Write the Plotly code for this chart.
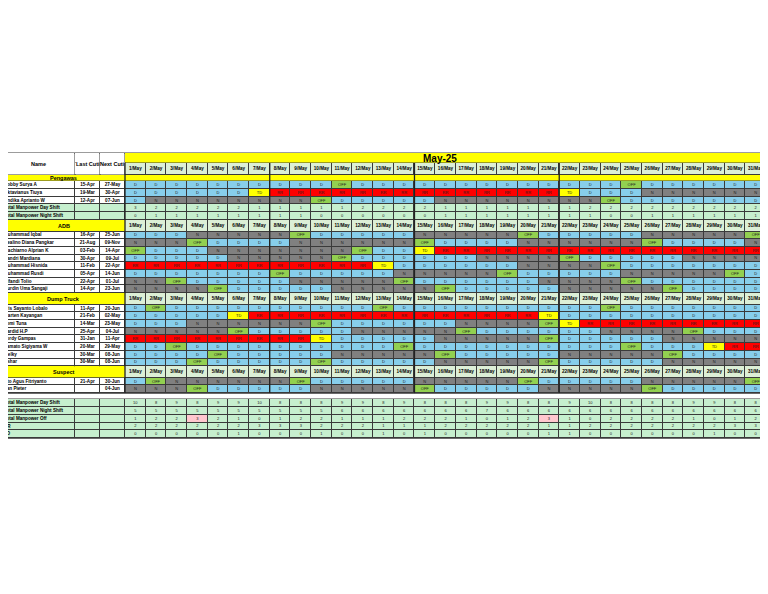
import plotly.graph_objects as go
import numpy as np

month_title = "May-25"
days = [f"{d}/May" for d in range(1, 32)]

peng_names = ["Bobby Surya A", "Oktavianus Tiuya", "Andika Aprianto W"]
peng_last = ["15-Apr", "19-Mar", "12-Apr"]
peng_next = ["27-May", "30-Apr", "07-Jun"]
peng_sched = [
    "DDDDD DDDDD ODDDD DDDDD DDDDO DDDDD D",
    "DDDDD DTRRR RRRRR RRRRR RTDDD NNNNN N",
    "DNNNN NNNNO DDDDD NNNNN NNNOD DDDDD D",
]
peng_day_total = [3,2,2,2,2,2,1,1,1,1,1,2,2,2,2,1,1,1,1,1,1,1,2,2,2,2,2,2,2,2,2]
peng_night_total = [0,1,1,1,1,1,1,1,1,0,0,0,0,0,0,1,1,1,1,1,1,1,1,0,0,1,1,1,1,1,1]

adb_names = ["Muhammad Iqbal", "Realino Diana Pangkar", "Machiarno Alprian K", "Handri Mardiana",
             "Muhammad Hisnida", "Muhammad Rusdi", "Alfandi Tolio", "Nurdin Uma Sangaji"]
adb_last = ["16-Apr", "21-Aug", "03-Feb", "30-Apr", "11-Feb", "05-Apr", "22-Apr", "14-Apr"]
adb_next = ["25-Jun", "09-Nov", "14-Apr", "09-Jul", "22-Apr", "14-Jun", "01-Jul", "23-Jun"]
adb_sched = [
    "DDDNN NNNOD DDDDN NNNNO DDDDD NNNNN O",
    "NNNOD DDDNN NNNNO DDDDN NNNNN ODDDD N",
    "ODDDN NNNNN NODDT RRRRR RRRRR RRRRR R",
    "DDDDD NNNNN ODDDD DDNNN NODDD DDNNN N",
    "RRRRR RRRRR RRTDD DDDDN NNNOD DDDDD D",
    "DDDDD DDODD DDDNN NNNOD DDDDN NNNNO D",
    "NNODD DDDNN NNNOD DDDDD NNNNO DDDDD D",
    "NNNNO DDDDD NNNNN ODDDD DNNNN NODDD D",
]

dt_names = ["Tris Sayanto Lobalo", "Marten Kayangan", "Tomi Tuna", "Hardid H.P", "Jordy Gampas",
            "Yamato Sigiyama W", "Melky", "Ashar"]
dt_last = ["11-Apr", "21-Feb", "14-Mar", "25-Apr", "31-Jan", "20-Mar", "30-Mar", "30-Mar"]
dt_next = ["20-Jun", "02-May", "23-May", "04-Jul", "11-Apr", "29-May", "08-Jun", "08-Jun"]
dt_sched = [
    "DODDD DDDDD DDODD DDDDD DDDOD DDDDD D",
    "DDDDD TRRRR RRRRR RRRRR TDDDD DDDDD D",
    "DDDNN NNNNO DDDDD DNNNN OTRRR RRRRR R",
    "NNNNN ODDDD DNNNN NODDD DDDNN NNODD D",
    "RRRRR RRRRT DDDDD NNNNN ODDDD DNNNN N",
    "DDODD DDDDD DDDOD DDDDD DDDDO DDDTR R",
    "DDDDO DDDDD NNNNN ODDDD DNNNN NODDD D",
    "DDDOD DDDDO DDDDD NNNNN ODDDD DNNNN N",
]

sus_names = ["Ato Agus Fitriyanto", "Yan Pieter"]
sus_last = ["21-Apr", ""]
sus_next = ["30-Jun", "04-Jun"]
sus_sched = [
    "DONNN NNNOD DDDDN NNNNO DDDDD NNNNN O",
    "NNNOD DDDDN NNNNO DDDDD NNNNN ODDDD D",
]

total_labels = ["Total Manpower Day Shift", "Total Manpower Night Shift", "Total Manpower Off", "RR", "TD"]
tot_day = [10,8,9,8,9,9,10,8,8,8,9,9,8,9,8,8,8,9,9,8,8,9,10,8,8,8,8,9,9,8,8]
tot_night = [5,5,5,5,5,5,5,5,5,5,6,6,6,6,6,6,6,7,6,6,6,6,6,6,6,6,6,6,6,6,6]
tot_off = [1,2,2,3,2,1,0,1,2,2,1,1,1,2,2,2,1,0,1,2,3,1,0,2,2,2,2,1,0,1,2]
tot_rr = [2,2,2,2,2,2,3,3,3,2,2,2,1,1,1,2,2,2,2,2,1,1,2,2,2,2,2,2,2,3,3]
tot_td = [0,0,0,0,0,1,0,0,0,1,0,0,1,0,1,0,0,0,0,0,1,1,0,0,0,0,0,0,1,0,0]

# ---------- styling ----------
COL = {"W": 0, "Y": 1, "H": 2, "D": 3, "N": 4, "O": 5, "R": 6, "T": 7, "G": 8, "P": 9}
colors = ["#FFFFFF", "#FFFF00", "#DCEFD6", "#87CEEB", "#808080", "#92D050", "#FF0000", "#FFFF00", "#C6EFCE", "#FFC7CE"]
LBL = {"D": "D", "N": "N", "O": "OFF", "R": "RR", "T": "TD"}
cs = []
for i, c in enumerate(colors):
    cs += [[i / 10, c], [(i + 1) / 10, c]]

ncol = 34
day_x0, day_x1 = 125, 766
xs = [2, 75, 100] + list(np.linspace(day_x0, day_x1, 32))

rows = []
rows.append(("title", 10, None))
rows.append(("dayhdr0", 12, None))
rows.append(("peng", 6, None))
for n, l, nx, s in zip(peng_names, peng_last, peng_next, peng_sched):
    rows.append(("person", 7.8, (n, l, nx, s)))
rows.append(("total", 7.8, ("Total Manpower Day Shift", peng_day_total, None)))
rows.append(("total", 7.8, ("Total Manpower Night Shift", peng_night_total, None)))
for gname, names, lasts, nexts, scheds in [("ADB", adb_names, adb_last, adb_next, adb_sched),
                                           ("Dump Truck", dt_names, dt_last, dt_next, dt_sched),
                                           ("Suspect", sus_names, sus_last, sus_next, sus_sched)]:
    rows.append(("group", 11.5, gname))
    for n, l, nx, s in zip(names, lasts, nexts, scheds):
        rows.append(("person", 7.7, (n, l, nx, s)))
rows.append(("gap", 6, None))
for lab, vals in zip(total_labels, [tot_day, tot_night, tot_off, tot_rr, tot_td]):
    rows.append(("total", 7.8, (lab, vals, 3 if lab == "Total Manpower Off" else None)))

ys = [153]
for r in rows:
    ys.append(ys[-1] + r[1])

z = np.full((len(rows), ncol), np.nan)
tx, ty, tt = [], [], []
hx, hy, ht = [], [], []
nx_, ny_, nt_ = [], [], []
annotations = []
shapes = []

def cx(j):
    return (xs[j] + xs[j + 1]) / 2

for i, (kind, h, p) in enumerate(rows):
    yc = (ys[i] + ys[i + 1]) / 2
    if kind == "title":
        z[i, :3] = COL["W"]; z[i, 3:] = COL["Y"]
    elif kind in ("dayhdr0", "group"):
        z[i, :3] = COL["Y"] if kind == "group" else COL["W"]
        z[i, 3:] = COL["H"]
        for j, d in enumerate(days):
            hx.append(cx(j + 3)); hy.append(yc); ht.append(d)
        if kind == "group":
            shapes.append(dict(type="rect", x0=xs[0], x1=xs[3], y0=ys[i], y1=ys[i + 1] - 0.5,
                               fillcolor=colors[1], line_width=0, layer="above"))
            annotations.append(dict(x=(xs[0] + xs[3]) / 2, y=yc, text=f"<b>{p}</b>", showarrow=False,
                                    font=dict(size=5.5, color="black")))
    elif kind == "peng":
        z[i, :] = COL["Y"]
        shapes.append(dict(type="rect", x0=xs[0], x1=xs[-1], y0=ys[i], y1=ys[i + 1] - 0.5,
                           fillcolor=colors[1], line_width=0, layer="above"))
        annotations.append(dict(x=(xs[0] + xs[3]) / 2, y=yc, text="<b>Pengawas</b>", showarrow=False,
                                font=dict(size=5.5, color="black")))
    elif kind == "person":
        n, l, nxt, s = p
        s = s.replace(" ", "")
        assert len(s) == 31, n
        z[i, :3] = COL["W"]
        nx_.append(xs[0] + 2); ny_.append(yc); nt_.append(n)
        for j, v in enumerate([l, nxt]):
            hx.append(cx(j + 1)); hy.append(yc); ht.append(v)
        for j, c in enumerate(s):
            z[i, j + 3] = COL[c]
            tx.append(cx(j + 3)); ty.append(yc); tt.append(LBL[c])
    elif kind == "total":
        lab, vals, hl = p
        z[i, :] = COL["G"]
        nx_.append(xs[0] + 2); ny_.append(yc); nt_.append(lab)
        for j, v in enumerate(vals):
            if hl is not None and v >= hl:
                z[i, j + 3] = COL["P"]
            tx.append(cx(j + 3)); ty.append(yc); tt.append(str(v))

gap_i = [k for k, r in enumerate(rows) if r[0] == "gap"][0]
shapes.insert(0, dict(type="rect", x0=xs[0] - 0.6, x1=xs[-1] + 0.6, y0=ys[0] - 0.6, y1=ys[gap_i] + 0.6,
                      fillcolor="#3a3a3a", line_width=0, layer="below"))
shapes.insert(0, dict(type="rect", x0=xs[0] - 0.6, x1=xs[-1] + 0.6, y0=ys[gap_i + 1] - 0.6, y1=ys[-1] + 0.6,
                      fillcolor="#3a3a3a", line_width=0, layer="below"))
for j in range(3):
    shapes.append(dict(type="rect", x0=xs[j] + 0.5, x1=xs[j + 1] - 0.5, y0=ys[0] + 0.5, y1=ys[2] - 0.5,
                       fillcolor="white", line_width=0, layer="above"))
for j, lab in enumerate(["Name", "Last Cuti", "Next Cuti"]):
    annotations.append(dict(x=cx(j), y=(ys[0] + ys[2]) / 2, text=f"<b>{lab}</b>", showarrow=False,
                            font=dict(size=5.5, color="black")))
shapes.append(dict(type="rect", x0=xs[3] + 0.5, x1=xs[-1], y0=ys[0], y1=ys[1] - 0.5,
                   fillcolor=colors[1], line_width=0, layer="above"))
annotations.append(dict(x=440, y=(ys[0] + ys[1]) / 2, text=f"<b>{month_title}</b>", showarrow=False,
                        font=dict(size=10, color="black")))
for j in [3, 10, 17, 24]:
    shapes.append(dict(type="line", x0=xs[j], x1=xs[j], y0=ys[1], y1=ys[gap_i], line=dict(color="#222", width=1.3),
                       layer="above"))

fig = go.Figure()
fig.add_trace(go.Heatmap(x=xs, y=ys, z=z, colorscale=cs, zmin=0, zmax=10, showscale=False,
                         xgap=1, ygap=1, hoverinfo="skip"))
fig.add_trace(go.Scatter(x=tx, y=ty, text=tt, mode="text", textfont=dict(size=4, color="#222", family="Liberation Sans"),
                         hoverinfo="skip"))
fig.add_trace(go.Scatter(x=hx, y=hy, text=[f"<b>{t}</b>" for t in ht], mode="text",
                         textfont=dict(size=4.6, color="black", family="Liberation Sans"), hoverinfo="skip"))
fig.add_trace(go.Scatter(x=nx_, y=ny_, text=[f"<b>{t}</b>" for t in nt_], mode="text", textposition="middle right",
                         textfont=dict(size=4.6, color="black", family="Liberation Sans"), hoverinfo="skip"))
# page body has an 8px margin: size the figure so page pixels equal data units
fig.update_layout(width=752, height=578, margin=dict(l=0, r=0, t=0, b=0),
                  paper_bgcolor="white", plot_bgcolor="white", showlegend=False,
                  shapes=shapes, annotations=annotations,
                  font=dict(family="Liberation Sans"))
fig.update_xaxes(range=[8, 760], visible=False, fixedrange=True)
fig.update_yaxes(range=[586, 8], visible=False, fixedrange=True)
fig.write_html("out.html")
